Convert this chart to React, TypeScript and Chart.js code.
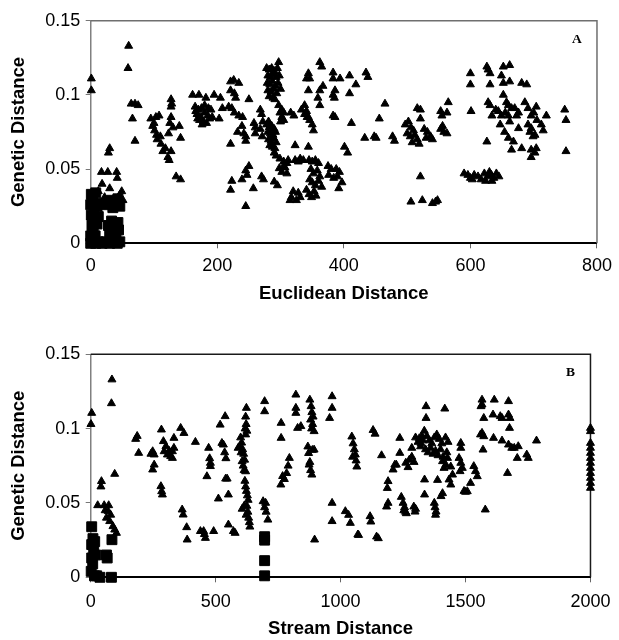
import React, { useEffect, useRef } from "react";
import { Chart, registerables } from "chart.js";

Chart.register(...registerables);

// ---------- DATA ----------
const yTickValues = [0, 0.05, 0.1, 0.15];
const yTickLabels = ["0", "0.05", "0.1", "0.15"];
const euclideanTickValues = [0, 200, 400, 600, 800];
const euclideanTickLabels = ["0", "200", "400", "600", "800"];
const streamTickValues = [0, 500, 1000, 1500, 2000];
const streamTickLabels = ["0", "500", "1000", "1500", "2000"];

// Panel A (Euclidean distance) – squares
const euclideanSquares: [number, number][] = [
  [0, 0], [3, 0.002], [8, 0], [12, 0.001], [18, 0], [24, 0.001], [30, 0], [36, 0.001], [42, 0], [46, 0.001],
  [0, 0.005], [4, 0.008], [2, 0.012], [6, 0.015], [1, 0.019], [5, 0.022], [0, 0.026], [3, 0.029], [1, 0.033], [8, 0.034],
  [10, 0.025], [15, 0.027], [20, 0.026], [10, 0.013], [12, 0.018], [7, 0.005],
  [28, 0.012], [33, 0.015], [38, 0.011], [43, 0.014], [30, 0.006], [40, 0.007], [44, 0.009],
  [28, 0.027], [33, 0.029], [38, 0.026], [43, 0.03], [46, 0.025], [35, 0.024],
];

// Panel A (Euclidean distance) – triangles
const euclideanTriangles: [number, number][] = [
  [1, 0.111], [1, 0.103], [60, 0.133], [59, 0.118],
  [64, 0.094], [70, 0.094], [75, 0.093], [66, 0.084], [70, 0.069],
  [28, 0.061], [30, 0.064],
  [17, 0.048], [27, 0.048], [41, 0.048], [42, 0.044], [18, 0.04], [30, 0.037], [12, 0.035], [49, 0.035], [51, 0.029], [45, 0.032], [36, 0.03], [22, 0.031],
  [95, 0.084], [103, 0.085], [108, 0.086], [101, 0.076], [104, 0.073], [98, 0.079], [105, 0.07], [111, 0.067], [114, 0.062], [122, 0.058], [124, 0.056], [127, 0.062],
  [127, 0.097], [128, 0.094], [127, 0.092], [127, 0.085], [125, 0.081], [130, 0.078], [123, 0.074], [140, 0.079], [142, 0.071], [135, 0.045], [142, 0.043], [100, 0.081], [110, 0.072], [118, 0.064],
  [161, 0.1], [171, 0.1], [182, 0.098], [195, 0.1], [205, 0.098],
  [165, 0.092], [170, 0.09], [175, 0.091], [168, 0.087], [174, 0.085], [180, 0.088], [185, 0.086], [172, 0.083], [178, 0.082], [183, 0.081], [188, 0.084], [176, 0.08], [190, 0.09], [166, 0.089], [180, 0.093], [186, 0.091], [192, 0.085], [169, 0.084],
  [203, 0.084], [208, 0.091], [218, 0.092], [223, 0.091],
  [221, 0.109], [226, 0.11], [234, 0.108], [227, 0.101], [221, 0.103], [229, 0.098], [250, 0.097],
  [227, 0.088], [234, 0.086], [240, 0.085], [221, 0.067], [239, 0.079], [242, 0.074], [245, 0.072], [245, 0.069], [232, 0.075],
  [223, 0.042], [221, 0.036], [239, 0.043], [245, 0.049], [250, 0.052], [247, 0.046], [245, 0.025], [257, 0.037],
  [258, 0.081], [260, 0.078], [260, 0.074], [268, 0.09], [270, 0.045], [273, 0.043], [281, 0.082], [284, 0.079],
  [278, 0.118], [282, 0.117], [286, 0.118], [290, 0.116], [295, 0.118], [280, 0.113], [284, 0.112], [288, 0.114], [293, 0.112], [298, 0.113],
  [279, 0.108], [283, 0.107], [287, 0.109], [292, 0.106], [296, 0.108], [280, 0.103], [285, 0.102], [289, 0.104], [294, 0.101], [282, 0.099], [288, 0.098], [297, 0.122], [300, 0.104], [291, 0.097],
  [278, 0.08], [282, 0.078], [286, 0.079], [290, 0.077], [280, 0.075], [284, 0.074], [288, 0.073], [292, 0.075], [281, 0.07], [285, 0.069], [289, 0.071], [293, 0.068], [283, 0.066], [287, 0.065], [291, 0.064],
  [270, 0.087], [272, 0.082], [268, 0.077], [271, 0.072],
  [297, 0.093], [299, 0.088], [302, 0.085], [300, 0.082],
  [290, 0.061], [293, 0.059], [290, 0.0415], [295, 0.039], [298, 0.0505],
  [305, 0.088], [305, 0.083], [302, 0.09],
  [310, 0.054], [312, 0.056], [305, 0.052], [310, 0.047], [299, 0.057], [305, 0.055], [302, 0.048], [307, 0.051],
  [316, 0.088], [321, 0.086],
  [317, 0.031], [315, 0.029], [328, 0.034], [331, 0.031], [320, 0.035], [325, 0.029],
  [323, 0.066], [323, 0.056], [331, 0.057], [336, 0.056], [328, 0.055], [344, 0.065],
  [333, 0.09], [338, 0.087], [342, 0.085], [346, 0.083], [350, 0.08], [352, 0.076],
  [344, 0.1145], [346, 0.111], [341, 0.111], [344, 0.103], [338, 0.093], [341, 0.089], [344, 0.085],
  [362, 0.122], [365, 0.119], [362, 0.103], [367, 0.106], [359, 0.098], [362, 0.093],
  [383, 0.115], [394, 0.111], [383, 0.111], [386, 0.103], [383, 0.1], [385, 0.098],
  [409, 0.113], [419, 0.107], [409, 0.101], [435, 0.115], [438, 0.112],
  [383, 0.086], [386, 0.085], [412, 0.081], [401, 0.065], [406, 0.061],
  [433, 0.071], [448, 0.072], [451, 0.071], [456, 0.084], [465, 0.094], [477, 0.072], [480, 0.069],
  [345, 0.056], [350, 0.055], [355, 0.056], [360, 0.054], [348, 0.05], [352, 0.047], [358, 0.049], [362, 0.045], [346, 0.043], [350, 0.041], [355, 0.039], [360, 0.042],
  [341, 0.036], [345, 0.033], [349, 0.031], [353, 0.035], [356, 0.032],
  [375, 0.052], [380, 0.05], [388, 0.05], [393, 0.048], [376, 0.046], [384, 0.044], [390, 0.045], [397, 0.041], [392, 0.037], [365, 0.038],
  [497, 0.08], [502, 0.082], [506, 0.078], [510, 0.076], [500, 0.074], [505, 0.072], [512, 0.073], [516, 0.07], [508, 0.068], [519, 0.067],
  [516, 0.091], [521, 0.09], [521, 0.084],
  [527, 0.077], [532, 0.075], [537, 0.072], [540, 0.07], [530, 0.071],
  [521, 0.045], [506, 0.028], [524, 0.029], [540, 0.027], [545, 0.028], [548, 0.029],
  [555, 0.086], [553, 0.089], [563, 0.088], [565, 0.095], [553, 0.077], [558, 0.075], [563, 0.074], [556, 0.079],
  [590, 0.047], [596, 0.046], [600, 0.044], [606, 0.046], [612, 0.045], [617, 0.043], [622, 0.047], [627, 0.045], [630, 0.048], [633, 0.046], [637, 0.044], [641, 0.047], [645, 0.045], [624, 0.042], [634, 0.042], [603, 0.043],
  [600, 0.1145], [600, 0.107], [601, 0.089],
  [626, 0.119], [628, 0.117], [631, 0.1145], [652, 0.119], [662, 0.12], [649, 0.113],
  [631, 0.107], [652, 0.108], [662, 0.109], [681, 0.108], [689, 0.107],
  [652, 0.1], [628, 0.095], [631, 0.093], [634, 0.086], [644, 0.089], [660, 0.093], [665, 0.091], [649, 0.086], [660, 0.086], [676, 0.088], [686, 0.095], [691, 0.091], [704, 0.092], [696, 0.086], [720, 0.086], [749, 0.09], [751, 0.083],
  [647, 0.08], [662, 0.082], [676, 0.0775], [654, 0.075], [660, 0.071], [668, 0.0685], [691, 0.08], [696, 0.0775], [702, 0.073], [712, 0.08], [715, 0.076], [694, 0.075], [699, 0.072],
  [626, 0.0685], [665, 0.063], [681, 0.064], [696, 0.063], [704, 0.064], [696, 0.058], [702, 0.061], [751, 0.062],
  [640, 0.09], [655, 0.088], [670, 0.091], [700, 0.088], [705, 0.083], [657, 0.095], [673, 0.086],
];

// Panel B (stream distance) – squares
const streamSquares: [number, number][] = [
  [4, 0.034], [9, 0.026], [16, 0.024], [4, 0.022], [12, 0.019], [20, 0.015], [4, 0.013], [8, 0.009], [2, 0.004], [15, 0.001], [24, 0.001], [37, 0], [83, 0],
  [85, 0.0253], [63, 0.015], [66, 0.013],
  [696, 0.0273], [696, 0.025], [696, 0.0112], [696, 0.001],
];

// Panel B (stream distance) – triangles
const streamTriangles: [number, number][] = [
  [4, 0.1105], [1, 0.103], [85, 0.133], [83, 0.117], [96, 0.0695], [43, 0.0646], [41, 0.061],
  [28, 0.0484], [54, 0.0484], [72, 0.0484], [70, 0.0444], [63, 0.04], [76, 0.0377], [89, 0.0343], [96, 0.032], [103, 0.0298], [80, 0.042], [58, 0.045],
  [186, 0.095], [180, 0.093], [192, 0.0836], [248, 0.0847], [254, 0.0825], [241, 0.083], [254, 0.0757], [248, 0.0724],
  [283, 0.0993], [291, 0.0915], [301, 0.0881], [294, 0.0847], [307, 0.0825], [320, 0.0814], [327, 0.0847], [333, 0.087], [333, 0.0937], [327, 0.0802], [314, 0.085],
  [281, 0.0612], [284, 0.0578], [287, 0.0556],
  [360, 0.1004], [373, 0.097], [419, 0.091],
  [472, 0.087], [476, 0.08], [479, 0.0769], [479, 0.0747], [465, 0.0679],
  [366, 0.0455], [370, 0.0421], [384, 0.0336], [386, 0.0253],
  [439, 0.031], [452, 0.031], [459, 0.0264], [492, 0.031], [455, 0.029],
  [511, 0.0529], [551, 0.0556], [551, 0.0354], [571, 0.031], [578, 0.0298],
  [525, 0.0903], [518, 0.1026], [538, 0.1083], [531, 0.0892], [536, 0.084], [541, 0.08], [546, 0.0663], [540, 0.0663],
  [623, 0.1139], [620, 0.108], [622, 0.103], [618, 0.1], [625, 0.0985], [620, 0.096],
  [600, 0.094], [596, 0.088], [604, 0.0905], [608, 0.086], [612, 0.083], [616, 0.079], [606, 0.078], [610, 0.075], [614, 0.072], [620, 0.0712], [602, 0.084], [590, 0.087],
  [617, 0.0648], [620, 0.061], [623, 0.058], [627, 0.055], [630, 0.052], [625, 0.048], [629, 0.044], [632, 0.04], [635, 0.037], [637, 0.034], [606, 0.046], [614, 0.048], [622, 0.042],
  [696, 0.1184], [696, 0.1116], [690, 0.0511], [696, 0.047], [702, 0.044], [709, 0.0387], [700, 0.05],
  [762, 0.1038], [762, 0.0937], [795, 0.0802], [790, 0.075], [784, 0.07], [775, 0.066], [761, 0.0623], [768, 0.068],
  [821, 0.1228], [821, 0.1139], [821, 0.1105], [828, 0.1004], [841, 0.1016],
  [874, 0.0757], [880, 0.072], [885, 0.069], [869, 0.0879], [872, 0.0835], [877, 0.0775], [887, 0.0856],
  [877, 0.1194], [882, 0.115], [885, 0.111], [880, 0.106], [888, 0.103], [894, 0.0982], [884, 0.1], [890, 0.108],
  [894, 0.0858],
  [966, 0.1217], [966, 0.1139], [956, 0.1071],
  [896, 0.0253], [966, 0.05], [966, 0.0377],
  [1019, 0.0444], [1032, 0.0419], [1039, 0.0365], [1069, 0.0287], [1072, 0.0284],
  [1118, 0.041], [1121, 0.0374], [1144, 0.0273], [1151, 0.0262],
  [1045, 0.0946], [1050, 0.09], [1055, 0.086], [1059, 0.0825], [1062, 0.0785], [1065, 0.0744], [1048, 0.081],
  [1130, 0.099], [1138, 0.0965], [1164, 0.082],
  [1190, 0.0646], [1187, 0.06], [1190, 0.05], [1184, 0.0475],
  [1210, 0.0724], [1217, 0.0757], [1223, 0.0757], [1237, 0.0937], [1237, 0.0836],
  [1243, 0.054], [1250, 0.05], [1256, 0.047], [1260, 0.044], [1263, 0.043], [1253, 0.045], [1293, 0.0475], [1298, 0.0441], [1300, 0.046],
  [1261, 0.077], [1275, 0.079], [1285, 0.081], [1294, 0.0775], [1270, 0.074],
  [1285, 0.087], [1300, 0.094], [1310, 0.091], [1320, 0.088], [1330, 0.092], [1325, 0.095], [1315, 0.0935],
  [1342, 0.115], [1342, 0.1071], [1336, 0.0657], [1336, 0.0556],
  [1322, 0.09], [1335, 0.0985], [1345, 0.095], [1355, 0.092], [1365, 0.09], [1375, 0.094], [1385, 0.096], [1395, 0.093], [1405, 0.09], [1420, 0.094], [1430, 0.091],
  [1340, 0.086], [1350, 0.084], [1360, 0.087], [1370, 0.083], [1380, 0.085], [1390, 0.082], [1400, 0.086], [1410, 0.081], [1425, 0.084],
  [1417, 0.1134],
  [1388, 0.0654], [1408, 0.0565], [1402, 0.0545], [1441, 0.0623], [1448, 0.069], [1434, 0.0657], [1421, 0.0757], [1414, 0.0735], [1428, 0.0802], [1408, 0.078], [1441, 0.0744],
  [1375, 0.05], [1378, 0.047], [1382, 0.0441], [1380, 0.042],
  [1481, 0.0903], [1481, 0.087], [1474, 0.0802], [1481, 0.0769], [1487, 0.0735], [1478, 0.0713],
  [1533, 0.0747], [1540, 0.0713], [1547, 0.0679], [1520, 0.0634], [1507, 0.0578], [1500, 0.0574], [1494, 0.058],
  [1566, 0.1194], [1566, 0.1161], [1562, 0.115], [1573, 0.1071], [1566, 0.0971], [1573, 0.0948], [1570, 0.0858], [1579, 0.0455], [1560, 0.096],
  [1615, 0.1194], [1610, 0.1094], [1639, 0.1083], [1646, 0.1071], [1672, 0.1184], [1672, 0.1094], [1678, 0.1071], [1676, 0.1004],
  [1612, 0.0937], [1646, 0.0919], [1672, 0.0892], [1685, 0.087], [1711, 0.0881], [1707, 0.0802], [1751, 0.0802], [1784, 0.0919], [1668, 0.0701], [1695, 0.087], [1745, 0.0825],
  [2000, 0.1004], [2000, 0.0982], [2000, 0.0903], [2000, 0.087], [2000, 0.0836], [2000, 0.0802], [2000, 0.0769], [2000, 0.0735], [2000, 0.0701], [2000, 0.0668], [2000, 0.0634], [2000, 0.0601],
];

// ---------- CHART ----------
const FONT = "'Liberation Sans', Arial, Helvetica, sans-serif";

type PanelSpec = {
  triangles: [number, number][];
  squares: [number, number][];
  xTickValues: number[];
  xTickLabels: string[];
  xTitle: string;
  letter: string;
  frameColor: string;
  canvasHeight: number;
  plotTop: number;
  plotLeft: number;
  plotRight: number;
  plotBottom: number;
  xTickPad: number;
  xTitlePadBottom: number;
};

function buildConfig(p: PanelSpec): any {
  const toPts = (arr: [number, number][]) => arr.map(([x, y]) => ({ x, y }));
  const framePlugin = {
    id: "frame_" + p.letter,
    beforeDatasetsDraw(chart: any) {
      const { ctx, chartArea } = chart;
      ctx.save();
      ctx.strokeStyle = p.frameColor;
      ctx.lineWidth = 1.5;
      ctx.beginPath();
      ctx.moveTo(chartArea.left, chartArea.top);
      ctx.lineTo(chartArea.right, chartArea.top);
      ctx.lineTo(chartArea.right, chartArea.bottom);
      ctx.stroke();
      ctx.restore();
    },
    afterDraw(chart: any) {
      const { ctx, chartArea } = chart;
      ctx.save();
      ctx.fillStyle = "#000";
      ctx.font = "bold 13.5px 'Liberation Serif', 'Times New Roman', serif";
      ctx.textAlign = "center";
      ctx.textBaseline = "middle";
      ctx.fillText(p.letter, chartArea.right - 20, chartArea.top + 18.5);
      ctx.restore();
    },
  };
  const xMin = p.xTickValues[0];
  const xMax = p.xTickValues[p.xTickValues.length - 1];
  return {
    type: "scatter",
    data: {
      datasets: [
        {
          label: "squares",
          data: toPts(p.squares),
          pointStyle: "rect",
          pointRadius: 7,
          backgroundColor: "#000",
          borderColor: "#000",
          borderWidth: 1,
          clip: false,
        },
        {
          label: "triangles",
          data: toPts(p.triangles),
          pointStyle: "triangle",
          pointRadius: 4.6,
          backgroundColor: "#000",
          borderColor: "#000",
          borderWidth: 1,
          clip: false,
        },
      ],
    },
    options: {
      responsive: false,
      animation: false,
      devicePixelRatio: 1,
      events: [],
      layout: {
        padding: {
          top: p.plotTop,
          left: 0,
          right: 619 - p.plotRight,
          bottom: 0,
        },
      },
      plugins: { legend: { display: false }, tooltip: { enabled: false } },
      scales: {
        x: {
          type: "linear",
          min: xMin,
          max: xMax,
          afterBuildTicks(scale: any) {
            scale.ticks = p.xTickValues.map((v) => ({ value: v }));
          },
          afterFit(scale: any) {
            scale.height = p.canvasHeight - p.plotBottom;
          },
          ticks: {
            color: "#000",
            font: { family: FONT, size: 18 },
            padding: p.xTickPad,
            maxRotation: 0,
            autoSkip: false,
            callback: (_v: any, i: number) => p.xTickLabels[i],
          },
          grid: {
            drawOnChartArea: false,
            drawTicks: true,
            tickLength: 5,
            color: "#666",
            lineWidth: 1,
          },
          border: { display: true, color: "#000", width: 2 },
          title: {
            display: true,
            text: p.xTitle,
            color: "#000",
            font: { family: FONT, size: 18.5, weight: "bold" },
            padding: { top: 0, bottom: p.xTitlePadBottom },
          },
        },
        y: {
          type: "linear",
          min: 0,
          max: 0.15,
          afterBuildTicks(scale: any) {
            scale.ticks = yTickValues.map((v) => ({ value: v }));
          },
          afterFit(scale: any) {
            scale.width = p.plotLeft;
          },
          ticks: {
            color: "#000",
            font: { family: FONT, size: 18 },
            padding: 5.5,
            autoSkip: false,
            callback: (_v: any, i: number) => yTickLabels[i],
          },
          grid: {
            drawOnChartArea: false,
            drawTicks: true,
            tickLength: 5,
            color: "#777",
            lineWidth: 1,
          },
          border: { display: true, color: "#808080", width: 1.5 },
          title: {
            display: true,
            text: "Genetic Distance",
            color: "#000",
            font: { family: FONT, size: 18.5, weight: "bold" },
            padding: { top: 8, bottom: 0 },
          },
        },
      },
    },
    plugins: [framePlugin],
  };
}

const panelA: PanelSpec = {
  triangles: euclideanTriangles,
  squares: euclideanSquares,
  xTickValues: euclideanTickValues,
  xTickLabels: euclideanTickLabels,
  xTitle: "Euclidean Distance",
  letter: "A",
  frameColor: "#6f6f6f",
  canvasHeight: 310,
  plotTop: 20.7,
  plotLeft: 90.7,
  plotRight: 601,
  plotBottom: 243.3,
  xTickPad: 7,
  xTitlePadBottom: 5,
};

const panelB: PanelSpec = {
  triangles: streamTriangles,
  squares: streamSquares,
  xTickValues: streamTickValues,
  xTickLabels: streamTickLabels,
  xTitle: "Stream Distance",
  letter: "B",
  frameColor: "#1a1a1a",
  canvasHeight: 320,
  plotTop: 34.3,
  plotLeft: 90.7,
  plotRight: 596.3,
  plotBottom: 257.3,
  xTickPad: 8.5,
  xTitlePadBottom: 0,
};

function Panel({ spec, top }: { spec: PanelSpec; top: number }) {
  const ref = useRef<HTMLCanvasElement | null>(null);
  useEffect(() => {
    if (!ref.current) return;
    const chart = new Chart(ref.current, buildConfig(spec));
    return () => chart.destroy();
  }, [spec]);
  return (
    <canvas
      ref={ref}
      width={619}
      height={spec.canvasHeight}
      style={{
        position: "absolute",
        left: 0,
        top,
        width: 619,
        height: spec.canvasHeight,
        display: "block",
      }}
    />
  );
}

export default function App() {
  return (
    <div
      style={{
        position: "absolute",
        left: 0,
        top: 0,
        width: 619,
        height: 640,
        background: "#fff",
        overflow: "hidden",
      }}
    >
      <Panel spec={panelA} top={0} />
      <Panel spec={panelB} top={320} />
    </div>
  );
}
